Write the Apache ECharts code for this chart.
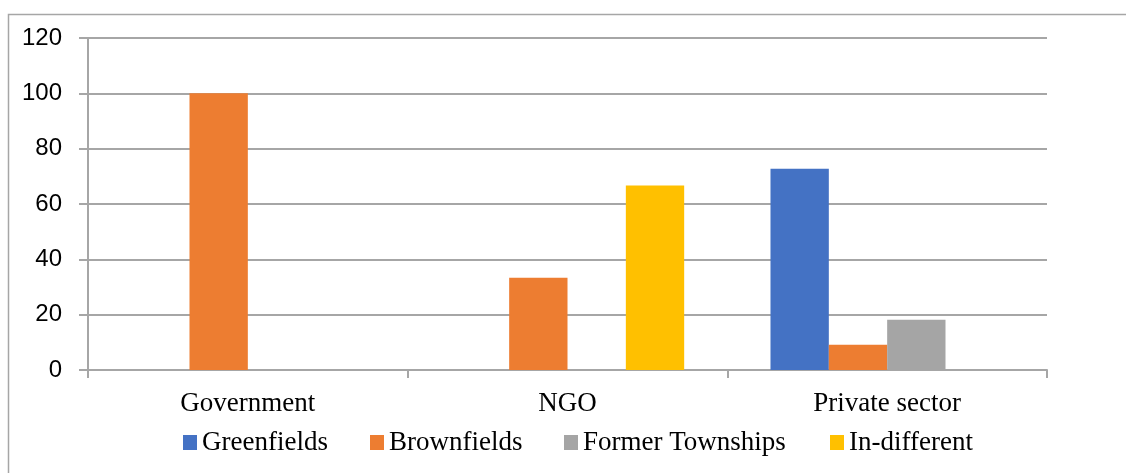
<!DOCTYPE html>
<html>
<head>
<meta charset="utf-8">
<script src="https://cdn.jsdelivr.net/npm/echarts@6/dist/echarts.min.js"></script>
<style>
  html, body { margin: 0; padding: 0; background: #fff; }
  #chart { width: 1126px; height: 473px; }
</style>
</head>
<body>
<div id="chart"></div>
<script>
const categories = ["Government", "NGO", "Private sector"];
const seriesNames = ["Greenfields", "Brownfields", "Former Townships", "In-different"];
const greenfields = [0, 0, 72.7];
const brownfields = [100, 33.3, 9.1];
const formerTownships = [0, 0, 18.2];
const inDifferent = [0, 66.7, 0];
const yTicks = [0, 20, 40, 60, 80, 100, 120];

const colors = ["#4472C4", "#ED7D31", "#A5A5A5", "#FFC000"];
const values = [greenfields, brownfields, formerTownships, inDifferent];
const legendLeft = [183, 370, 564, 830];

const chart = echarts.init(document.getElementById("chart"));
chart.setOption({
  animation: false,
  graphic: [
    {
      type: "rect",
      shape: { x: 8.5, y: 14.5, width: 1300, height: 600 },
      style: { fill: "none", stroke: "#a6a6a6", lineWidth: 1.5 },
      silent: true,
    },
  ],
  legend: seriesNames.map((name, i) => ({
    data: [name],
    left: legendLeft[i],
    top: 429,
    padding: 0,
    itemWidth: 14,
    itemHeight: 15,
    icon: "rect",
    textStyle: { fontFamily: "Liberation Serif", fontSize: 27, color: "#000" },
  })),
  grid: { left: 88, right: 79, top: 38, bottom: 103 },
  xAxis: {
    type: "category",
    data: categories,
    axisLine: { lineStyle: { color: "#a6a6a6", width: 2 } },
    axisTick: { show: true, length: 8, lineStyle: { color: "#a6a6a6", width: 2 } },
    axisLabel: {
      fontFamily: "Liberation Serif",
      fontSize: 27,
      color: "#000",
      margin: 20,
    },
  },
  yAxis: {
    type: "value",
    min: yTicks[0],
    max: yTicks[yTicks.length - 1],
    interval: 20,
    axisLine: { show: true, lineStyle: { color: "#a6a6a6", width: 2 } },
    axisTick: { show: true, length: 9, lineStyle: { color: "#a6a6a6", width: 2 } },
    splitLine: { lineStyle: { color: "#a6a6a6", width: 2 } },
    axisLabel: {
      fontFamily: "Liberation Sans",
      fontSize: 24,
      color: "#000",
      margin: 26,
    },
  },
  series: seriesNames.map((name, i) => ({
    name,
    type: "bar",
    data: values[i],
    barGap: "0%",
    barCategoryGap: "27%",
    itemStyle: { color: colors[i] },
  })),
});
</script>
</body>
</html>
